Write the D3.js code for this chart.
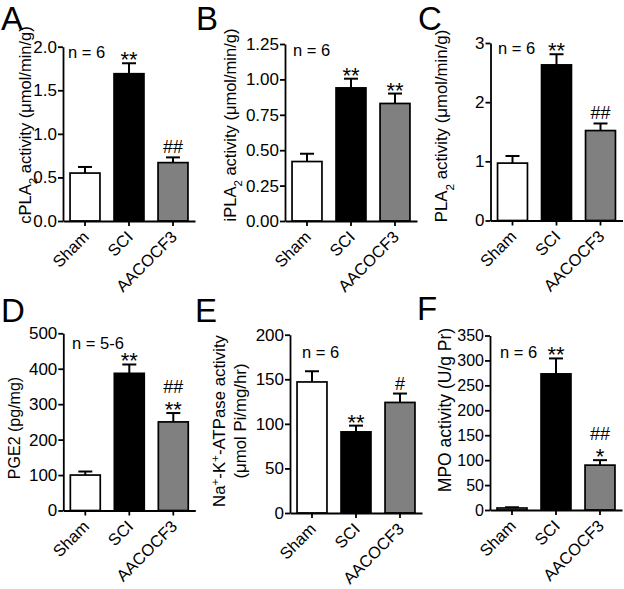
<!DOCTYPE html>
<html><head><meta charset="utf-8">
<script src="https://cdn.jsdelivr.net/npm/d3@7"></script>
<style>
html,body{margin:0;padding:0;background:#fff;}
svg{display:block;font-family:"Liberation Sans",Arial,sans-serif;}
</style></head><body>
<svg id="chart" width="624" height="589"></svg>
<script>
// ---------- data ----------
const categories = ["Sham", "SCI", "AACOCF3"];
const barColors = ["#ffffff", "#000000", "#808080"];

const cpla2Mean = [0.55, 1.69, 0.67];
const cpla2Sem  = [0.07, 0.12, 0.06];
const cpla2Ticks = [0, 0.5, 1.0, 1.5, 2.0];
const cpla2Marks = [[], ["**"], ["##"]];

const ipla2Mean = [0.42, 0.94, 0.83];
const ipla2Sem  = [0.055, 0.065, 0.07];
const ipla2Ticks = [0, 0.25, 0.5, 0.75, 1.0, 1.25];
const ipla2Marks = [[], ["**"], ["**"]];

const pla2Mean = [0.97, 2.63, 1.52];
const pla2Sem  = [0.12, 0.18, 0.12];
const pla2Ticks = [0, 1, 2, 3];
const pla2Marks = [[], ["**"], ["##"]];

const pge2Mean = [100, 387, 250];
const pge2Sem  = [10, 25, 25];
const pge2Ticks = [0, 100, 200, 300, 400, 500];
const pge2Marks = [[], ["**"], ["##", "**"]];

const atpaseMean = [147, 91, 124];
const atpaseSem  = [12, 7, 10];
const atpaseTicks = [0, 50, 100, 150, 200];
const atpaseMarks = [[], ["**"], ["#"]];

const mpoMean = [4, 273, 90];
const mpoSem  = [1.5, 31, 10];
const mpoTicks = [0, 50, 100, 150, 200, 250, 300, 350];
const mpoMarks = [[], ["**"], ["##", "*"]];

const panelLetters = ["A", "B", "C", "D", "E", "F"];
const nLabels = ["n = 6", "n = 6", "n = 6", "n = 5-6", "n = 6", "n = 6"];

// ---------- panel definitions (data references + layout) ----------
const panels = [
  { letter: panelLetters[0], mean: cpla2Mean, sem: cpla2Sem, ticks: cpla2Ticks, marks: cpla2Marks, n: nLabels[0],
    fmt: d3.format(".1f"),
    title: [[{t: "cPLA"}, {t: "2", s: "sub"}, {t: " activity (\u03bcmol/min/g)"}]],
    L: { x0: 63, yTop: 46.7, yBot: 221, lx: 1, ly: 30, tx: [31], ty: 125, ts: 16.5, nx: 68, ny: 58, tick: 17 } },
  { letter: panelLetters[1], mean: ipla2Mean, sem: ipla2Sem, ticks: ipla2Ticks, marks: ipla2Marks, n: nLabels[1],
    fmt: d3.format(".2f"),
    title: [[{t: "iPLA"}, {t: "2", s: "sub"}, {t: " activity (\u03bcmol/min/g)"}]],
    L: { x0: 285, yTop: 44, yBot: 221, lx: 196, ly: 30, tx: [236], ty: 125, ts: 16.5, nx: 293, ny: 56, tick: 17 } },
  { letter: panelLetters[2], mean: pla2Mean, sem: pla2Sem, ticks: pla2Ticks, marks: pla2Marks, n: nLabels[2],
    fmt: d3.format("d"),
    title: [[{t: "PLA"}, {t: "2", s: "sub"}, {t: " activity (\u03bcmol/min/g)"}]],
    L: { x0: 490.5, yTop: 43, yBot: 220.5, lx: 418, ly: 30, tx: [447], ty: 126, ts: 16.8, nx: 498, ny: 54, tick: 17 } },
  { letter: panelLetters[3], mean: pge2Mean, sem: pge2Sem, ticks: pge2Ticks, marks: pge2Marks, n: nLabels[3],
    fmt: d3.format("d"),
    title: [[{t: "PGE2 (pg/mg)"}]],
    L: { x0: 63.3, yTop: 333.3, yBot: 510.5, lx: 1, ly: 321.5, tx: [20], ty: 428, ts: 16, nx: 72, ny: 349, tick: 17 } },
  { letter: panelLetters[4], mean: atpaseMean, sem: atpaseSem, ticks: atpaseTicks, marks: atpaseMarks, n: nLabels[4],
    fmt: d3.format("d"),
    title: [[{t: "Na"}, {t: "+", s: "super"}, {t: "-K"}, {t: "+", s: "super"}, {t: "-ATPase activity"}],
            [{t: "(\u03bcmol Pi/mg/hr)"}]],
    L: { x0: 290, yTop: 334.7, yBot: 513, lx: 195, ly: 321.5, tx: [225, 246], ty: 421, ts: 16.8, nx: 302, ny: 357.5, tick: 17 } },
  { letter: panelLetters[5], mean: mpoMean, sem: mpoSem, ticks: mpoTicks, marks: mpoMarks, n: nLabels[5],
    fmt: d3.format("d"),
    title: [[{t: "MPO activity (U/g Pr)"}]],
    L: { x0: 490, yTop: 335.5, yBot: 510, lx: 417, ly: 320, tx: [451], ty: 410, ts: 17.5, nx: 500, ny: 358, tick: 16 } }
];

const svg = d3.select("#chart");
const AXIS_W = 1.8;
const FONT = "Liberation Sans, Arial, sans-serif";
const STAR_SIZE = 22, HASH_SIZE = 18, MARK_GAP = 24;

panels.forEach(p => {
  const L = p.L;
  const g = svg.append("g");

  const x = d3.scaleBand().domain(categories).range([L.x0, L.x0 + 132])
    .paddingInner(0.32).paddingOuter(0.16);
  const y = d3.scaleLinear().domain([0, d3.max(p.ticks)]).range([L.yBot, L.yTop]);

  // bars
  g.selectAll("rect.bar").data(categories).join("rect")
    .attr("class", "bar")
    .attr("x", d => x(d))
    .attr("width", x.bandwidth())
    .attr("y", (d, i) => y(p.mean[i]))
    .attr("height", (d, i) => y(0) - y(p.mean[i]))
    .attr("fill", (d, i) => barColors[i])
    .attr("stroke", "#000")
    .attr("stroke-width", 1.7);

  // error bars (upper only)
  const cx = d => x(d) + x.bandwidth() / 2;
  g.selectAll("line.err").data(categories).join("line")
    .attr("class", "err")
    .attr("x1", cx).attr("x2", cx)
    .attr("y1", (d, i) => y(p.mean[i]))
    .attr("y2", (d, i) => y(p.mean[i] + p.sem[i]))
    .attr("stroke", "#000").attr("stroke-width", 2);
  g.selectAll("line.cap").data(categories).join("line")
    .attr("class", "cap")
    .attr("x1", d => cx(d) - 7).attr("x2", d => cx(d) + 7)
    .attr("y1", (d, i) => y(p.mean[i] + p.sem[i]))
    .attr("y2", (d, i) => y(p.mean[i] + p.sem[i]))
    .attr("stroke", "#000").attr("stroke-width", 2);

  // significance marks: stacked upward from the error cap
  categories.forEach((c, i) => {
    const lines = p.marks[i];
    if (!lines.length) return;
    const top = y(p.mean[i] + p.sem[i]);
    let base = null;
    for (let k = lines.length - 1; k >= 0; k--) {
      const star = lines[k][0] === "*";
      base = base === null ? top + (star ? 4 : -4) : base - MARK_GAP;
      g.append("text")
        .attr("x", cx(c)).attr("y", base)
        .attr("text-anchor", "middle")
        .attr("font-size", star ? STAR_SIZE : HASH_SIZE)
        .attr("fill", "#000")
        .text(lines[k]);
    }
  });

  // y axis
  const ya = g.append("g").attr("transform", `translate(${L.x0},0)`)
    .call(d3.axisLeft(y).tickValues(p.ticks).tickFormat(p.fmt)
      .tickSize(5).tickPadding(1).tickSizeOuter(0));
  ya.select(".domain").attr("stroke-width", AXIS_W);
  ya.selectAll(".tick line").attr("stroke-width", AXIS_W);
  ya.selectAll(".tick text").attr("font-size", L.tick)
    .attr("font-family", FONT).attr("fill", "#000");

  // x axis
  const xa = g.append("g").attr("transform", `translate(0,${L.yBot})`)
    .call(d3.axisBottom(x).tickSize(5).tickSizeOuter(0));
  xa.select(".domain").attr("stroke-width", AXIS_W);
  xa.selectAll(".tick line").attr("stroke-width", AXIS_W);
  xa.selectAll(".tick text")
    .attr("x", 0).attr("y", 0).attr("dy", 0)
    .attr("transform", "translate(5,17) rotate(-45)")
    .attr("text-anchor", "end")
    .attr("font-size", 16.5)
    .attr("font-family", FONT)
    .attr("fill", "#000");

  // y-axis title
  p.title.forEach((line, li) => {
    const t = g.append("text")
      .attr("transform", `translate(${L.tx[li]},${L.ty}) rotate(-90)`)
      .attr("text-anchor", "middle")
      .attr("font-size", L.ts)
      .attr("fill", "#000");
    line.forEach(seg => {
      const ts = t.append("tspan").text(seg.t);
      if (seg.s) ts.attr("baseline-shift", seg.s).attr("font-size", L.ts * 0.7);
    });
  });

  // n label
  g.append("text").attr("x", L.nx).attr("y", L.ny)
    .attr("font-size", 16.5).attr("fill", "#000").text(p.n);

  // panel letter
  g.append("text").attr("x", L.lx).attr("y", L.ly)
    .attr("font-size", 33).attr("fill", "#000").text(p.letter);
});
</script>
</body></html>
